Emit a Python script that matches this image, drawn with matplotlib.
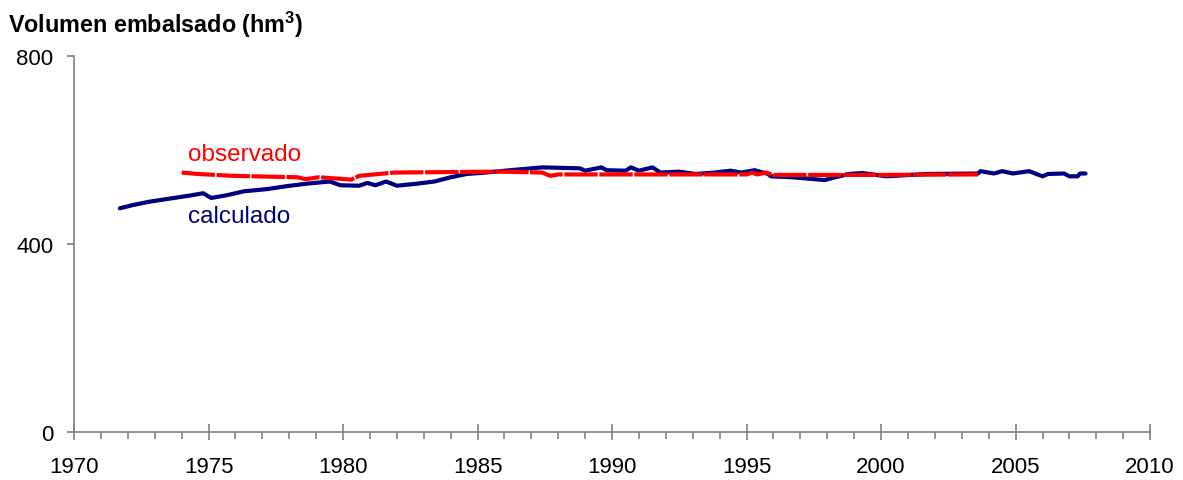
import matplotlib
matplotlib.use('Agg')
import matplotlib.pyplot as plt
from matplotlib.ticker import MultipleLocator

plt.rcParams['font.family'] = ['Liberation Sans', 'DejaVu Sans']
plt.rcParams['mathtext.fontset'] = 'custom'
plt.rcParams['mathtext.rm'] = 'Liberation Sans'
plt.rcParams['mathtext.bf'] = 'Liberation Sans:bold'

# simulated volume (calculado)
calc_years = [1971.7, 1972.2, 1972.8, 1973.6, 1974.3, 1974.8, 1975.1, 1975.7, 1976.3, 1977.2,
              1977.9, 1978.6, 1979.5, 1979.9, 1980.6, 1980.9, 1981.2, 1981.6, 1982.0, 1982.7,
              1983.4, 1984.0, 1984.6, 1985.3, 1986.4, 1987.4, 1988.8, 1989.0, 1989.6, 1989.8,
              1990.5, 1990.7, 1991.0, 1991.5, 1991.8, 1992.5, 1993.1, 1993.8, 1994.4, 1994.8,
              1995.3, 1995.8, 1995.9, 1996.7, 1997.9, 1998.3, 1998.8, 1999.3, 2000.2, 2001.7,
              2003.6, 2003.7, 2004.2, 2004.5, 2004.9, 2005.5, 2006.0, 2006.2, 2006.8, 2007.0,
              2007.3, 2007.4, 2007.6]
calc_vals = [476, 483, 490, 497, 503, 508, 498, 504, 512, 517,
             523, 528, 533, 525, 524, 530, 525, 533, 524, 528,
             533, 542, 549, 552, 558, 563, 561, 556, 563, 557,
             556, 563, 556, 563, 552, 554, 549, 552, 556, 552,
             557, 549, 544, 542, 536, 542, 549, 551, 544, 549,
             550, 555, 550, 555, 550, 555, 544, 549, 550, 544,
             544, 550, 550]

# observed volume (observado)
obs_years = [1974.0, 1974.6, 1975.9, 1978.3, 1978.6, 1979.1, 1980.3, 1980.6, 1981.9, 1985.8,
             1987.4, 1987.7, 1988.0, 1991.0, 1995.0, 1995.2, 1995.4, 1995.7, 1996.0, 2000.0,
             2003.6]
obs_vals = [552, 549, 545, 542, 538, 542, 537, 545, 552, 554,
            552, 545, 548, 548, 548, 552, 548, 552, 547, 547,
            548]

fig = plt.figure(figsize=(11.83, 4.81), dpi=100)
ax = fig.add_axes([0.0626, 0.0998, 0.9096, 0.7817])

ax.plot(calc_years, calc_vals, color='#000080', lw=3.0, solid_capstyle='round')
ax.plot(obs_years, obs_vals, color='#ff0000', lw=3.0, ls=(0, (8, 0.4)))

ax.text(1974.25, 591, 'observado', color='#ff0000', fontsize=17.5, va='center')
ax.text(1974.25, 460, 'calculado', color='#000080', fontsize=17.5, va='center')

ax.set_xlim(1970, 2010)
ax.set_ylim(0, 800)
ax.xaxis.set_major_locator(MultipleLocator(5))
ax.xaxis.set_minor_locator(MultipleLocator(1))
ax.yaxis.set_major_locator(MultipleLocator(400))

for s in ['top', 'right']:
    ax.spines[s].set_visible(False)
for s in ['left', 'bottom']:
    ax.spines[s].set_color('#808080')
    ax.spines[s].set_linewidth(1.2)

ax.tick_params(axis='x', which='major', direction='inout', length=11, width=1.2,
               color='#808080', labelsize=16, pad=12)
ax.tick_params(axis='x', which='minor', direction='out', length=5, width=1.2, color='#808080')
ax.tick_params(axis='y', which='major', direction='out', length=5, width=1.2,
               color='#808080', labelsize=16, pad=10)

fig.text(0.007, 0.948, r'Volumen embalsado (hm$^{\mathbf{3}}$)', fontsize=16.8,
         fontweight='bold', va='center')

fig.savefig('out.png', dpi=100)
